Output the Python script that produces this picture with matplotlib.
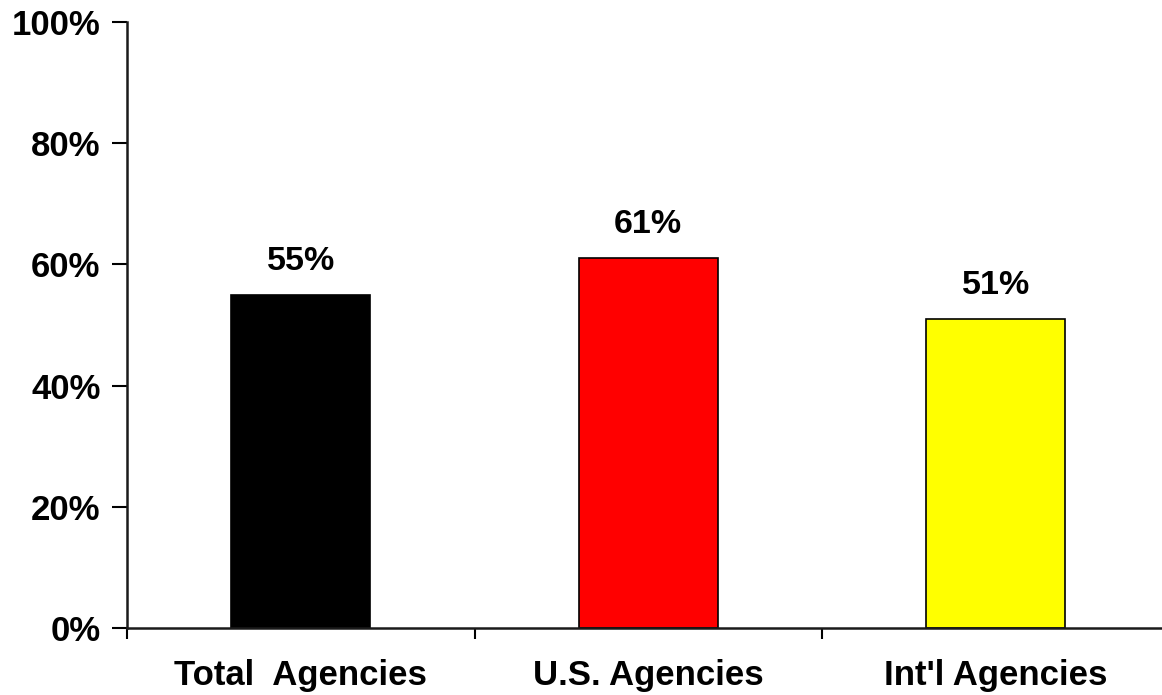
import matplotlib
matplotlib.use("Agg")
import matplotlib.pyplot as plt
from matplotlib.ticker import FuncFormatter

categories = ["Total  Agencies", "U.S. Agencies", "Int'l Agencies"]
values = [55, 61, 51]
colors = ["#000000", "#ff0000", "#ffff00"]
yticks = [0, 20, 40, 60, 80, 100]

plt.rcParams["font.family"] = ["Liberation Sans", "DejaVu Sans"]
plt.rcParams["font.weight"] = "bold"

fig = plt.figure(figsize=(11.62, 6.95), dpi=100)
# axes run a little past the right edge of the canvas
ax = fig.add_axes([127 / 1162, 67 / 695, 1042.5 / 1162, 606 / 695])

x = range(len(categories))
bars = ax.bar(x, values, width=0.4, color=colors, edgecolor="#000000", linewidth=1.2)
for b, v in zip(bars, values):
    ax.text(b.get_x() + b.get_width() / 2, v + 3, f"{v}%", ha="center", va="bottom",
            fontsize=24.5, fontweight="bold")

ax.set_xlim(-0.5, len(categories) - 0.5)
ax.set_ylim(0, 100)
ax.set_yticks(yticks)
ax.yaxis.set_major_formatter(FuncFormatter(lambda v, p: f"{v:.0f}%"))
ax.set_xticks([i - 0.5 for i in range(len(categories) + 1)])
ax.set_xticklabels([])
ax.set_xticks(list(x), minor=True)
ax.set_xticklabels(categories, minor=True, fontsize=25, fontweight="bold")
ax.tick_params(axis="x", which="minor", length=0, pad=22)
ax.tick_params(axis="x", which="major", length=8, width=1.5, direction="out")
ax.tick_params(axis="y", length=11, width=1.5, direction="out", labelsize=25, pad=8)

for s in ["top", "right"]:
    ax.spines[s].set_visible(False)
for s in ["left", "bottom"]:
    ax.spines[s].set_linewidth(1.8)
    ax.spines[s].set_color("#1a1a1a")

fig.savefig("out.png", dpi=100)
